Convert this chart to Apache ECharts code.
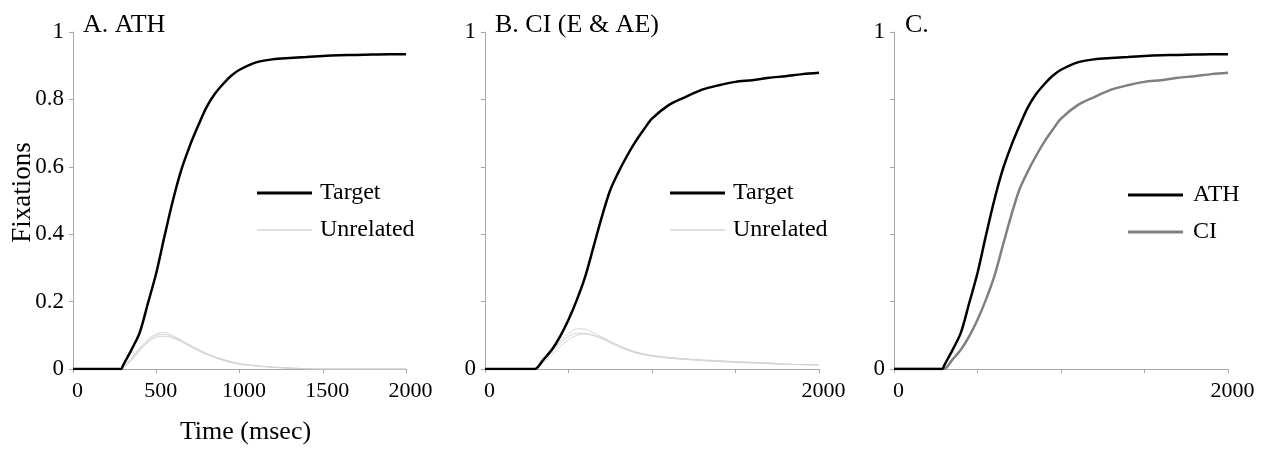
<!DOCTYPE html>
<html>
<head>
<meta charset="utf-8">
<script src="https://cdn.jsdelivr.net/npm/echarts@6/dist/echarts.min.js"></script>
<style>
    html, body { margin: 0; padding: 0; background: #fff; }
    #chart { width: 1275px; height: 451px; }
</style>
</head>
<body>
<div id="chart"></div>
<script>
    // time points (msec)
    let times = [0, 250, 290, 300, 350, 400, 450, 500, 550, 600, 650, 700, 750, 800, 850, 900, 950, 1000,
                 1100, 1200, 1300, 1400, 1500, 1600, 1700, 1800, 1900, 2000];

    // A. ATH
    let athTarget = [0, 0, 0, 0.01, 0.056, 0.107, 0.195, 0.285, 0.395, 0.50, 0.59, 0.66, 0.72, 0.775, 0.815, 0.845, 0.87, 0.888,
                     0.91, 0.919, 0.923, 0.926, 0.929, 0.931, 0.932, 0.933, 0.934, 0.934];
    let athUnrel1 = [0, 0, 0, 0.005, 0.032, 0.062, 0.088, 0.104, 0.108, 0.099, 0.086, 0.072, 0.059, 0.047, 0.037, 0.029, 0.022, 0.016,
                     0.01, 0.006, 0.003, 0.001, 0, 0, 0, 0, 0, 0];
    let athUnrel2 = [0, 0, 0, 0.004, 0.028, 0.058, 0.083, 0.099, 0.102, 0.095, 0.083, 0.069, 0.056, 0.045, 0.035, 0.027, 0.02, 0.015,
                     0.009, 0.005, 0.002, 0.001, 0, 0, 0, 0, 0, 0];
    let athUnrel3 = [0, 0, 0, 0.003, 0.025, 0.054, 0.079, 0.094, 0.097, 0.092, 0.081, 0.068, 0.055, 0.044, 0.034, 0.026, 0.019, 0.014,
                     0.009, 0.005, 0.003, 0.001, 0, 0, 0, 0, 0, 0];

    // B. CI (E & AE)
    let ciTarget = [0, 0, 0, 0, 0.028, 0.057, 0.097, 0.146, 0.205, 0.274, 0.363, 0.452, 0.531, 0.585, 0.632, 0.674, 0.71, 0.743,
                    0.783, 0.807, 0.829, 0.842, 0.852, 0.857, 0.864, 0.869, 0.875, 0.879];
    let ciUnrel1 = [0, 0, 0, 0, 0.025, 0.052, 0.082, 0.106, 0.119, 0.118, 0.107, 0.095, 0.082, 0.07, 0.059, 0.05, 0.044, 0.04,
                    0.034, 0.03, 0.027, 0.025, 0.022, 0.02, 0.018, 0.015, 0.013, 0.012];
    let ciUnrel2 = [0, 0, 0, 0, 0.024, 0.05, 0.076, 0.097, 0.106, 0.106, 0.1, 0.092, 0.081, 0.07, 0.06, 0.051, 0.045, 0.04,
                    0.034, 0.03, 0.026, 0.023, 0.02, 0.018, 0.016, 0.014, 0.013, 0.012];
    let ciUnrel3 = [0, 0, 0, 0, 0.02, 0.042, 0.066, 0.087, 0.1, 0.104, 0.099, 0.09, 0.078, 0.066, 0.056, 0.048, 0.042, 0.038,
                    0.032, 0.028, 0.025, 0.022, 0.02, 0.018, 0.016, 0.014, 0.013, 0.012];

    let panelTitles = ['A. ATH', 'B. CI (E & AE)', 'C.'];

    const pair = arr => times.map((t, i) => [t, arr[i]]);

    let chart = echarts.init(document.getElementById('chart'));
    const font = '"Liberation Serif", "Times New Roman", serif';
    const axisGray = '#a8a8a8';
    const unrelGray = '#d4d4d4';

    function xAxis(idx, allLabels, name) {
        return {
            type: 'value', gridIndex: idx, min: 0, max: 2000, interval: 500,
            axisLine: { lineStyle: { color: axisGray } },
            axisTick: { show: true, length: 4, lineStyle: { color: axisGray } },
            splitLine: { show: false },
            axisLabel: {
                color: '#000', fontFamily: font, fontSize: 22, margin: 11, padding: [0, 0, 0, 9],
                formatter: v => (allLabels || v === 0 || v === 2000) ? String(v) : ''
            },
            name: name || '', nameLocation: 'middle', nameGap: 50,
            nameTextStyle: { color: '#000', fontFamily: font, fontSize: 26, padding: [0, 0, 0, 12] }
        };
    }
    function yAxis(idx, allLabels, name) {
        return {
            type: 'value', gridIndex: idx, min: 0, max: 1, interval: 0.2,
            axisLine: { show: true, lineStyle: { color: axisGray } },
            axisTick: { show: true, length: 4, lineStyle: { color: axisGray } },
            splitLine: { show: false },
            axisLabel: {
                color: '#000', fontFamily: font, fontSize: 23, margin: 9,
                formatter: v => (allLabels || v === 0 || v === 1) ? String(v) : ''
            },
            name: name || '', nameLocation: 'middle', nameGap: 37, nameRotate: 90,
            nameMoveOverlap: false,
            nameTextStyle: { color: '#000', fontFamily: font, fontSize: 27, padding: [0, 0, 0, 16] }
        };
    }
    function line(name, data, idx, color, width) {
        return {
            name: name, type: 'line', xAxisIndex: idx, yAxisIndex: idx,
            data: pair(data), symbol: 'none', smooth: 0.3,
            lineStyle: { color: color, width: width }, itemStyle: { color: color },
            emphasis: { disabled: true }
        };
    }
    // one legend per entry so each icon can have its own thickness
    function legend(name, left, top, thick, gap) {
        return {
            left: left, top: top, data: [name],
            icon: 'rect', symbolKeepAspect: false,
            itemWidth: 55, itemHeight: thick,
            selectedMode: false,
            textStyle: { color: '#000', fontFamily: font, fontSize: 24, padding: [0, 0, 0, gap] }
        };
    }
    function title(text, left) {
        return { text: text, left: left, top: 7,
                 textStyle: { fontFamily: font, fontSize: 26, fontWeight: 'normal', color: '#000' } };
    }

    let option = {
        animation: false,
        backgroundColor: '#fff',
        title: [title(panelTitles[0], 78), title(panelTitles[1], 490), title(panelTitles[2], 900)],
        grid: [
            { left: 73, top: 32, width: 333, height: 337 },
            { left: 485, top: 32, width: 334, height: 337 },
            { left: 894, top: 32, width: 334, height: 337 }
        ],
        xAxis: [xAxis(0, true, 'Time (msec)'), xAxis(1, false), xAxis(2, false)],
        yAxis: [yAxis(0, true, 'Fixations'), yAxis(1, false), yAxis(2, false)],
        legend: [
            legend('Target', 252, 176, 3, 3),
            legend('Unrelated', 252, 213, 1.5, 3),
            legend('Target ', 665, 176, 3, 3),
            legend('Unrelated ', 665, 213, 1.5, 3),
            legend('ATH', 1123, 178, 3, 5),
            legend('CI', 1123, 215, 3, 5)
        ],
        series: [
            line('Unrelated', athUnrel1, 0, unrelGray, 1),
            line('Unrelated', athUnrel2, 0, unrelGray, 1),
            line('Unrelated', athUnrel3, 0, unrelGray, 1),
            line('Target', athTarget, 0, '#000', 2.5),
            line('Unrelated ', ciUnrel1, 1, unrelGray, 1),
            line('Unrelated ', ciUnrel2, 1, unrelGray, 1),
            line('Unrelated ', ciUnrel3, 1, unrelGray, 1),
            line('Target ', ciTarget, 1, '#000', 2.5),
            line('CI', ciTarget, 2, '#808080', 2.5),
            line('ATH', athTarget, 2, '#000', 2.5)
        ]
    };
    chart.setOption(option);
</script>
</body>
</html>
